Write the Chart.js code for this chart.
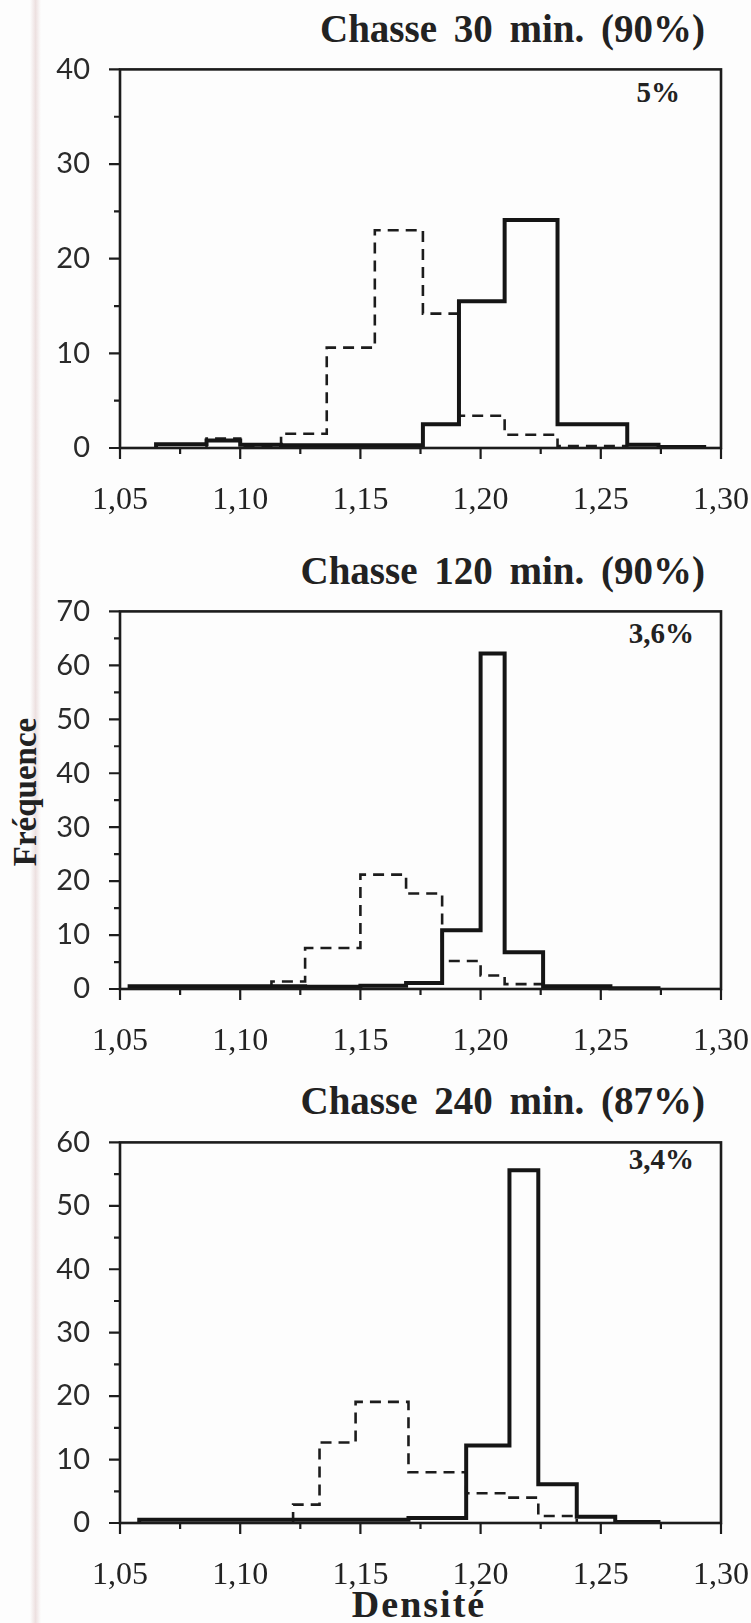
<!DOCTYPE html>
<html lang="fr">
<head>
<meta charset="utf-8">
<title>Chasse - densité</title>
<script src="https://cdn.jsdelivr.net/npm/chart.js@4.4.1/dist/chart.umd.min.js"></script>
<style>
  html, body { margin: 0; padding: 0; background: #fdfdfd; }
  #page { position: relative; width: 751px; height: 1623px; overflow: hidden; }
  canvas { position: absolute; left: 0; }
  .bande { position: absolute; left: 30px; top: 0; width: 11px; height: 1623px;
           background: linear-gradient(90deg, rgba(235,220,220,0), rgba(230,212,212,0.7), rgba(235,220,220,0)); }
  .txt { position: absolute; font-family: "Liberation Serif", "Times New Roman", serif; color: #222; white-space: nowrap; }
  .titre { font-weight: bold; font-size: 39px; line-height: 39px; word-spacing: 7px; right: 46px; }
  .pct { font-weight: bold; font-size: 29px; line-height: 29px; }
  #freq { font-weight: bold; font-size: 33px; line-height: 33px; left: 25px; top: 792px;
          transform: translate(-50%, -50%) rotate(-90deg); }
  #dens { font-weight: bold; font-size: 38px; line-height: 38px; letter-spacing: 2px;
          left: 419px; top: 1585px; transform: translateX(-50%); }
</style>
</head>
<body>
<div id="page">
  <div class="bande"></div>

  <div class="txt titre" style="top:9px">Chasse 30 min. (90%)</div>
  <div class="txt titre" style="top:551px">Chasse 120 min. (90%)</div>
  <div class="txt titre" style="top:1081px">Chasse 240 min. (87%)</div>

  <div class="txt pct" style="top:78px; right:71px">5%</div>
  <div class="txt pct" style="top:619px; right:57px">3,6%</div>
  <div class="txt pct" style="top:1145px; right:57px">3,4%</div>

  <div class="txt" id="freq">Fréquence</div>
  <div class="txt" id="dens">Densité</div>

  <canvas id="c30"></canvas>
  <canvas id="c120"></canvas>
  <canvas id="c240"></canvas>
</div>

<script>
// --- Données (bornes des classes de densité + fréquences) ---
const xTicks = [1.05, 1.10, 1.15, 1.20, 1.25, 1.30];

// Chasse 30 min
const yTicks30 = [0, 10, 20, 30, 40];
const edgesSolid30 = [1.065, 1.086, 1.100, 1.117, 1.136, 1.156, 1.176, 1.191, 1.210, 1.232, 1.261, 1.274, 1.293];
const solid30 = [0.4, 0.8, 0.35, 0.3, 0.3, 0.3, 2.5, 15.5, 24.1, 2.5, 0.35, 0.1];
const edgesDash30 = [1.086, 1.100, 1.117, 1.136, 1.156, 1.176, 1.191, 1.210, 1.232, 1.261];
const dash30 = [1.0, 0.2, 1.5, 10.6, 23.0, 14.2, 3.4, 1.4, 0.2];

// Chasse 120 min
const yTicks120 = [0, 10, 20, 30, 40, 50, 60, 70];
const edgesSolid120 = [1.054, 1.113, 1.127, 1.150, 1.169, 1.184, 1.200, 1.210, 1.226, 1.254, 1.274];
const solid120 = [0.5, 0.5, 0.4, 0.6, 1.1, 10.9, 62.2, 6.8, 0.5, 0.15];
const edgesDash120 = [1.113, 1.127, 1.150, 1.169, 1.184, 1.200, 1.210, 1.226];
const dash120 = [1.4, 7.6, 21.2, 17.7, 5.2, 2.5, 0.9];

// Chasse 240 min
const yTicks240 = [0, 10, 20, 30, 40, 50, 60];
const edgesSolid240 = [1.058, 1.122, 1.133, 1.148, 1.170, 1.194, 1.212, 1.224, 1.240, 1.256, 1.274];
const solid240 = [0.5, 0.5, 0.5, 0.5, 0.8, 12.2, 55.6, 6.1, 1.0, 0.15];
const edgesDash240 = [1.122, 1.133, 1.148, 1.170, 1.194, 1.212, 1.224, 1.240];
const dash240 = [2.9, 12.7, 19.1, 8.0, 4.7, 4.0, 1.1];

// histogramme en escalier : (bord, valeur) + retour à zéro aux deux bouts
function steps(edges, vals) {
  const pts = [{ x: edges[0], y: 0 }];
  vals.forEach((v, i) => pts.push({ x: edges[i], y: v }));
  pts.push({ x: edges[vals.length], y: vals[vals.length - 1] });
  pts.push({ x: edges[vals.length], y: 0 });
  return pts;
}

const panels = [
  { id: 'c30',  top: 60,   bottom: 448,  yMax: 40, yTicks: yTicks30,
    solid: steps(edgesSolid30, solid30),   dash: steps(edgesDash30, dash30) },
  { id: 'c120', top: 602,  bottom: 989,  yMax: 70, yTicks: yTicks120,
    solid: steps(edgesSolid120, solid120), dash: steps(edgesDash120, dash120) },
  { id: 'c240', top: 1133, bottom: 1523, yMax: 60, yTicks: yTicks240,
    solid: steps(edgesSolid240, solid240), dash: steps(edgesDash240, dash240) }
];

// cadre + graduations (grandes / petites)
const cadre = {
  id: 'cadre',
  afterDraw(chart) {
    const { ctx, chartArea: a, scales: { x, y } } = chart;
    ctx.save();
    ctx.strokeStyle = '#1c1c1c';
    ctx.lineWidth = 2.6;
    ctx.strokeRect(a.left, a.top, a.right - a.left, a.bottom - a.top);
    ctx.lineWidth = 2.2;
    ctx.beginPath();
    for (let v = 0; v <= y.max; v += 5) {
      const py = y.getPixelForValue(v);
      const len = v % 10 === 0 ? 11 : 6;
      ctx.moveTo(a.left - len, py);
      ctx.lineTo(a.left, py);
    }
    for (let i = 0; i <= 10; i++) {
      const px = x.getPixelForValue(1.05 + i * 0.025);
      const len = i % 2 === 0 ? 11 : 6;
      ctx.moveTo(px, a.bottom);
      ctx.lineTo(px, a.bottom + len);
    }
    ctx.stroke();
    ctx.restore();
  }
};

const padTop = 30, axisH = 70;

panels.forEach(p => {
  const canvas = document.getElementById(p.id);
  canvas.width = 751;
  canvas.height = padTop + (p.bottom - p.top) + axisH;
  canvas.style.top = (p.top - padTop) + 'px';

  new Chart(canvas, {
    type: 'line',
    data: {
      datasets: [
        { label: 'plein', data: p.solid, borderColor: '#151515', borderWidth: 4,
          stepped: 'before', pointRadius: 0, fill: false, clip: 4 },
        { label: 'tirets', data: p.dash, borderColor: '#1c1c1c', borderWidth: 2.6,
          borderDash: [11, 7], stepped: 'before', pointRadius: 0, fill: false, clip: 4 }
      ]
    },
    options: {
      responsive: false,
      animation: false,
      layout: { padding: { top: padTop, right: 30, left: 0, bottom: 0 } },
      plugins: { legend: { display: false }, tooltip: { enabled: false } },
      scales: {
        x: {
          type: 'linear', min: 1.05, max: 1.30,
          grid: { display: false }, border: { display: false },
          afterBuildTicks: s => { s.ticks = xTicks.map(v => ({ value: v })); },
          afterFit: s => { s.height = axisH; s.paddingLeft = 0; s.paddingRight = 0; },
          ticks: {
            autoSkip: false, maxRotation: 0, padding: 25, color: '#222',
            font: { family: 'Liberation Serif', size: 32 },
            callback: v => v.toFixed(2).replace('.', ',')
          }
        },
        y: {
          min: 0, max: p.yMax,
          grid: { display: false }, border: { display: false },
          afterBuildTicks: s => { s.ticks = p.yTicks.map(v => ({ value: v })); },
          afterFit: s => { s.width = 120; },
          ticks: { padding: 22, color: '#2a2a2a', font: { family: 'Lato', size: 29 } }
        }
      }
    },
    plugins: [cadre]
  });
});
</script>
</body>
</html>
